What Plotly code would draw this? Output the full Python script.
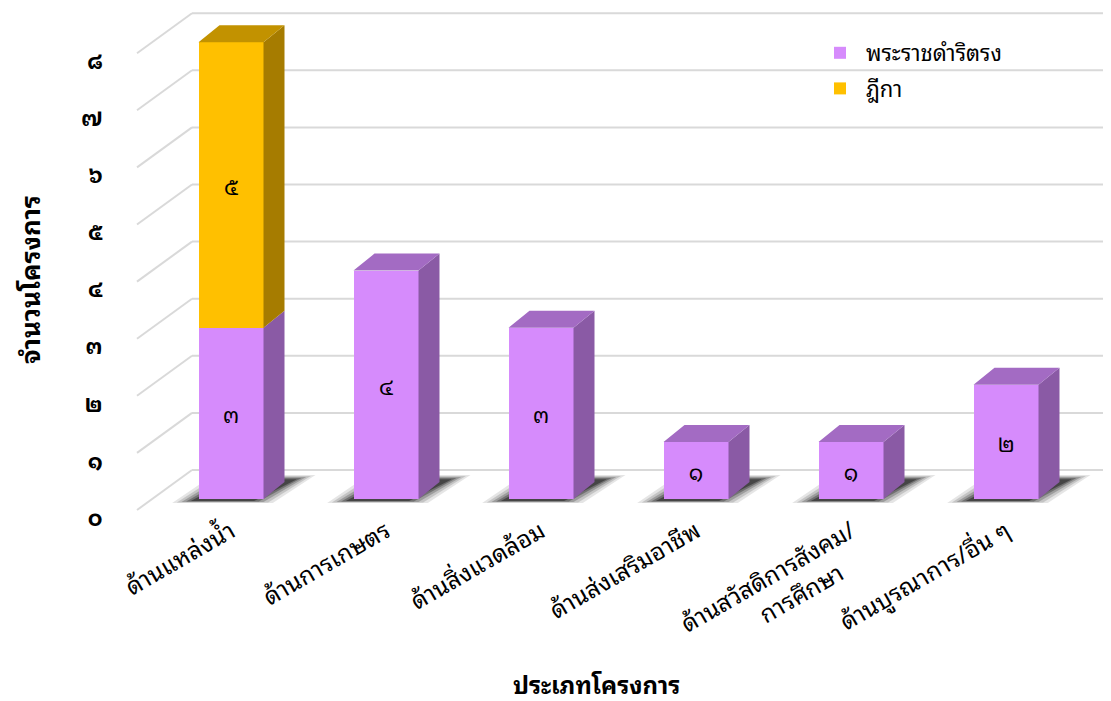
import plotly.graph_objects as go

# ---------------- data ----------------
categories = ["ด้านแหล่งน้ำ", "ด้านการเกษตร", "ด้านสิ่งแวดล้อม", "ด้านส่งเสริมอาชีพ",
              "ด้านสวัสดิการสังคม/<br>การศึกษา", "ด้านบูรณาการ/อื่น ๆ"]
series_names = ["พระราชดำริตรง", "ฎีกา"]
royal_values = [3, 4, 3, 1, 1, 2]
petition_values = [5, 0, 0, 0, 0, 0]
y_ticks = [0, 1, 2, 3, 4, 5, 6, 7, 8]
x_title = "ประเภทโครงการ"
y_title = "จำนวนโครงการ"

# ---------------- style ----------------
FONT = "Noto Sans Thai Looped, IBM Plex Sans Thai Looped, Noto Sans Thai, sans-serif"
front_cols = ["#D68BFC", "#FFC000"]
side_cols = ["#8A5AA5", "#A67C00"]
top_cols = ["#A36BC3", "#C29200"]
GRID = "#D9D9D9"

OFF = 8                               # page offset of the figure (body margin)
W, H = 1111 - OFF, 701 - OFF
# plot area in page pixels
PL, PR, PT, PB = 130, 1111, 8, 522
XAXIS_PIX = 512                       # page y where the category labels hang from
X0PIX, XSTEP = 231, 155               # page pixel of category 0 and spacing
Y0PIX, YSTEP = 499, 57.1              # page pixel of value 0 and px per unit
BAR_W = 65 / XSTEP
DX, DY = 21 / XSTEP, 17 / YSTEP            # bar depth
WALL_DX, WALL_DY = 55 / XSTEP, 40 / YSTEP  # wall depth
WALL_X = (137 - X0PIX) / XSTEP             # front edge of side wall
FRONT_OFF = -11 / YSTEP                    # grid front edge vs. bar front
TICK_SHIFT = -19 / YSTEP

x_range = [(PL - X0PIX) / XSTEP, (PR - X0PIX) / XSTEP]
y_range = [(Y0PIX - PB) / YSTEP, (Y0PIX - PT) / YSTEP]

def thai(n):
    return str(n).translate(str.maketrans("0123456789", "๐๑๒๓๔๕๖๗๘๙"))

def paper_xy(px, py):
    return (px - PL) / (PR - PL), (PB - py) / (PB - PT)

# centre the wrapped second line under the first one (labels are end-anchored)
tick_text = [c + "\u00a0" * 5 if "<br>" in c else c for c in categories]

xs = list(range(len(categories)))
series = [royal_values, petition_values]

fig = go.Figure()

# front faces (bars)
for s, vals in enumerate(series):
    fig.add_trace(go.Bar(
        x=xs, y=vals, name=series_names[s], width=BAR_W,
        marker=dict(color=front_cols[s], line=dict(width=0)),
        text=[thai(v) if v else "" for v in vals],
        textposition="inside", insidetextanchor="middle", textangle=0,
        textfont=dict(size=22, color="black", family=FONT),
        legendgroup=series_names[s], constraintext="none",
    ))

# side and top faces
bases = [0] * len(xs)
tops_all = [r + p for r, p in zip(royal_values, petition_values)]
for s, vals in enumerate(series):
    sx, sy, tx, ty = [], [], [], []
    for i, v in enumerate(vals):
        if v == 0:
            continue
        b, t = bases[i], bases[i] + v
        xr = i + BAR_W / 2
        xl = i - BAR_W / 2
        sx += [xr, xr + DX, xr + DX, xr, xr, None]
        sy += [b, b + DY, t + DY, t, b, None]
        if t == tops_all[i]:
            tx += [xl, xl + DX, xr + DX, xr, xl, None]
            ty += [t, t + DY, t + DY, t, t, None]
        bases[i] = t
    fig.add_trace(go.Scatter(x=sx, y=sy, fill="toself", fillcolor=side_cols[s],
                             mode="lines", line=dict(width=0), showlegend=False,
                             hoverinfo="skip"))
    if tx:
        fig.add_trace(go.Scatter(x=tx, y=ty, fill="toself", fillcolor=top_cols[s],
                                 mode="lines", line=dict(width=0), showlegend=False,
                                 hoverinfo="skip"))

# grid lines (back wall + slanted side wall)
shapes = []
for v in y_ticks:
    yf = v + FRONT_OFF
    yb = yf + WALL_DY
    shapes.append(dict(type="line", xref="x", yref="y", x0=WALL_X + WALL_DX, x1=x_range[1] + 0.2,
                       y0=yb, y1=yb, line=dict(color=GRID, width=2), layer="below"))
    shapes.append(dict(type="line", xref="x", yref="y", x0=WALL_X, x1=WALL_X + WALL_DX,
                       y0=yf, y1=yb, line=dict(color=GRID, width=2), layer="below"))

# soft shadows under bars
layers = [(0.0, 0.10), (0.03, 0.14), (0.06, 0.2), (0.09, 0.28), (0.12, 0.38)]
for i in xs:
    xl = i - BAR_W / 2
    xr = i + BAR_W / 2
    for shrink, op in layers:
        y0 = -0.07 + shrink * 0.3
        y1 = 0.42 - shrink * 0.6
        p = (f"M {xl - 0.17 + shrink},{y0} L {xr + 0.06 - shrink},{y0} "
             f"L {xr + DX + 0.2 - shrink},{y1} L {xl + DX - 0.04 + shrink},{y1} Z")
        shapes.append(dict(type="path", xref="x", yref="y", path=p,
                           fillcolor="black", opacity=op, line=dict(width=0), layer="below"))

lx, ly = paper_xy(814, 32)
xtx, xty = paper_xy(596, 683)
ytx, yty = paper_xy(28, 280)
_, xaxis_pos = paper_xy(0, XAXIS_PIX)

fig.update_layout(
    width=W, height=H, barmode="stack",
    margin=dict(l=PL - OFF, r=W - (PR - OFF), t=PT - OFF, b=H - (PB - OFF), autoexpand=False),
    paper_bgcolor="white", plot_bgcolor="white",
    font=dict(family=FONT, color="black"),
    shapes=shapes,
    showlegend=True,
    legend=dict(x=lx, y=ly, xanchor="left", yanchor="top",
                traceorder="grouped", tracegroupgap=4, itemwidth=42,
                font=dict(size=22, family=FONT, color="black"),
                bgcolor="rgba(0,0,0,0)"),
    xaxis=dict(range=x_range, tickvals=xs, ticktext=tick_text, tickangle=-30,
               showgrid=False, zeroline=False, showline=False,
               tickfont=dict(size=24, family=FONT), ticks="",
               anchor="free", position=xaxis_pos, automargin=False),
    yaxis=dict(range=y_range, tickvals=[v + TICK_SHIFT for v in y_ticks],
               ticktext=[f"<b>{thai(v)}</b>" for v in y_ticks], showgrid=False, zeroline=False,
               showline=False, tickfont=dict(size=22, family=FONT),
               ticks="outside", ticklen=22, tickcolor="rgba(0,0,0,0)", automargin=False),
    annotations=[
        dict(text=f"<b>{x_title}</b>", x=xtx, y=xty, xref="paper", yref="paper",
             xanchor="center", yanchor="middle",
             showarrow=False, font=dict(size=24, family=FONT)),
        dict(text=f"<b>{y_title}</b>", x=ytx, y=yty, xref="paper", yref="paper",
             xanchor="center", yanchor="middle",
             showarrow=False, textangle=-90, font=dict(size=26, family=FONT)),
    ],
)

fig.write_html("out.html")
